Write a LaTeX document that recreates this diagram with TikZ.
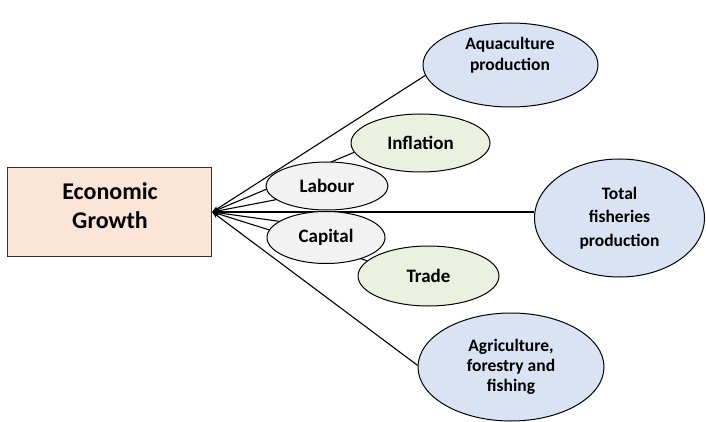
\documentclass[tikz,border=0pt]{standalone}
\usepackage{fontspec}
\setmainfont{Carlito}
\usetikzlibrary{shapes.geometric,arrows.meta,backgrounds}
\definecolor{peach}{HTML}{FBE5D6}
\definecolor{lblue}{HTML}{DAE3F3}
\definecolor{lgreen}{HTML}{EBF1DE}
\definecolor{lgray}{HTML}{F2F2F2}
\begin{document}
\begin{tikzpicture}[x=1pt,y=-1pt,
  ell/.style={ellipse,draw=black,line width=1pt,inner sep=0pt,align=center,
    font=\bfseries\fontsize{17.5}{21}\selectfont},
  fac/.style={ell,font=\bfseries\fontsize{19}{22}\selectfont},
  txt/.style={align=center,inner sep=0pt},
  conn/.style={draw=black,line width=1.1pt,-{Stealth[length=6.5pt,width=5pt]}}]
\useasboundingbox (0,0) rectangle (706,422);
% main box
\node[draw=black!80,line width=1pt,fill=peach,minimum width=204.5pt,minimum height=89pt,inner sep=0pt] (eg) at (109.5,212) {};
\node[txt,font=\bfseries\fontsize{24}{29}\selectfont] (egt) at (110,205.5) {Economic\\Growth};
% outcome ellipses
\node[ell,fill=lblue,minimum width=175pt,minimum height=84pt] (aq) at (510.5,65) {};
\node[txt,font=\bfseries\fontsize{17.5}{20.5}\selectfont] (aqt) at (510,55) {Aquaculture\\production};
\node[ell,fill=lblue,minimum width=170pt,minimum height=118pt,
  font=\bfseries\fontsize{17.5}{23.5}\selectfont] (tf) at (619.5,218) {Total\\fisheries\\production};
\node[ell,fill=lblue,minimum width=186pt,minimum height=108pt,
  font=\bfseries\fontsize{17.5}{20}\selectfont] (ag) at (511,367) {Agriculture,\\forestry and\\fishing};
% factor ellipses
\node[fac,fill=lgreen,minimum width=139pt,minimum height=58pt] (inf) at (420.5,143) {Inflation};
\node[fac,fill=lgray,minimum width=122pt,minimum height=48pt] (lab) at (327,186) {Labour};
\node[fac,fill=lgray,minimum width=118pt,minimum height=52pt] (cap) at (326,237.5) {Capital};
\node[fac,fill=lgreen,minimum width=141pt,minimum height=60pt] (trd) at (428.5,276) {Trade};
% connectors
\begin{pgfonlayer}{background}
\draw[conn] (aq.187) -- (eg.east);
\draw[conn] (inf.188) -- (eg.east);
\draw[conn] (lab.195) -- (eg.east);
\draw[conn] (eg.east -| tf.west) -- (eg.east);
\draw[conn] (cap.161) -- (eg.east);
\draw[conn] (trd.166) -- (eg.east);
\draw[conn] (ag.179) -- (eg.east);
\end{pgfonlayer}
\end{tikzpicture}
\end{document}
